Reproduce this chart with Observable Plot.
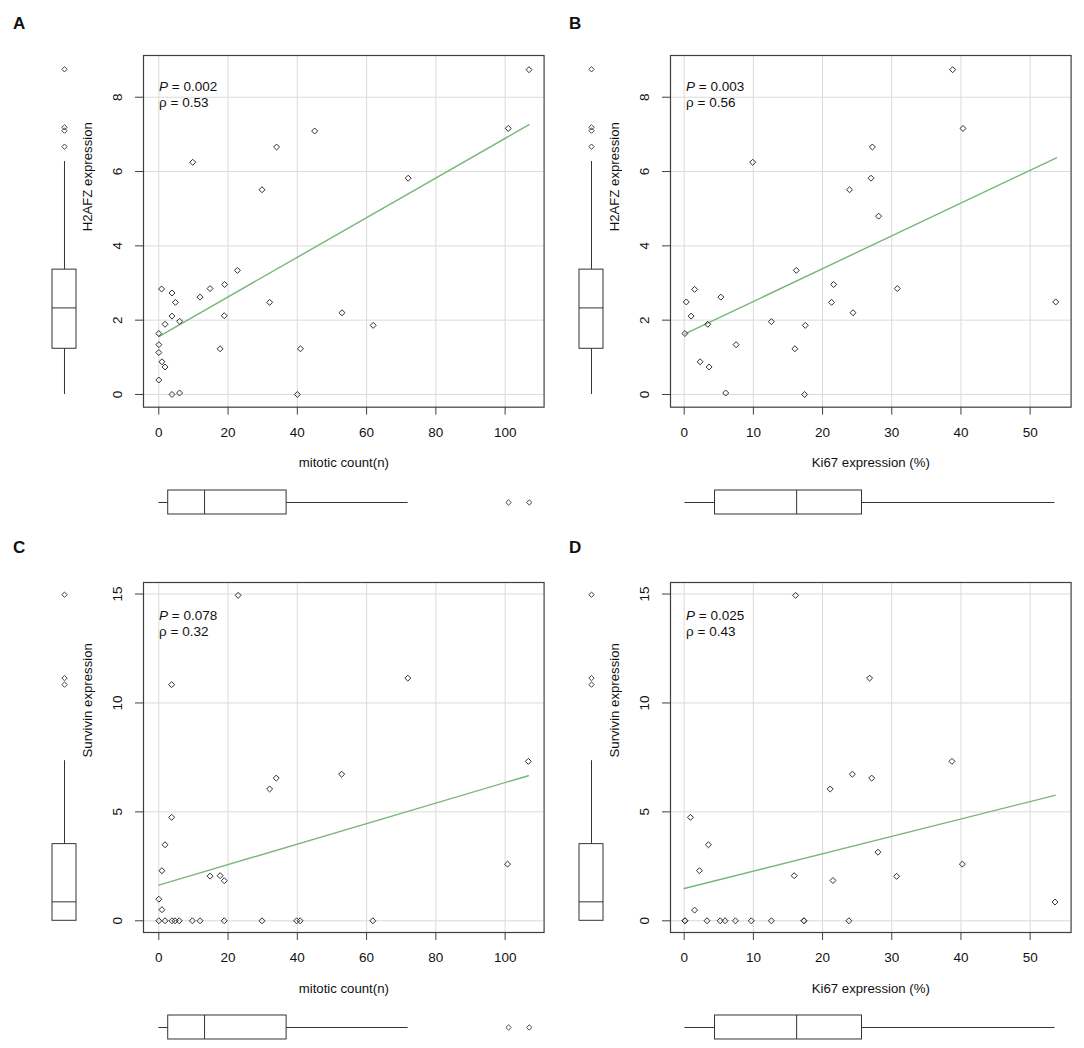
<!DOCTYPE html>
<html>
<head>
<meta charset="utf-8">
<script src="https://cdn.jsdelivr.net/npm/d3@7"></script>
<script src="https://cdn.jsdelivr.net/npm/@observablehq/plot@0.6"></script>
<style>
  html, body { margin: 0; padding: 0; background: #fff; }
  body { width: 1084px; height: 1048px; position: relative; overflow: hidden; font-family: "Liberation Sans", Arial, sans-serif; }
  .abs { position: absolute; }
  .letter { position: absolute; font: bold 17px "Liberation Sans", Arial, sans-serif; color: #111; }
</style>
</head>
<body>
<script>
// ---------- Panel A: H2AFZ expression vs mitotic count ----------
const aMitotic = [106.9, 100.9, 45.0, 34.0, 9.8, 72.0, 29.8, 22.7, 0.8, 14.8, 19.0, 3.8, 11.9, 4.8, 32.0, 3.8, 18.9, 52.9, 6.0, 1.8, 61.9, 0, 0, 0, 0.9, 1.8, 0, 17.7, 40.9, 3.8, 6.0, 40.0];
const aH2afz   = [8.74, 7.16, 7.09, 6.66, 6.25, 5.82, 5.51, 3.34, 2.84, 2.85, 2.96, 2.73, 2.62, 2.48, 2.48, 2.11, 2.12, 2.20, 1.97, 1.89, 1.86, 1.64, 1.34, 1.13, 0.88, 0.74, 0.39, 1.23, 1.23, 0, 0.04, 0];
const aFitX = [0, 106.9];
const aFitY = [1.56, 7.26];

// ---------- Panel B: H2AFZ expression vs Ki67 ----------
const bKi67  = [38.8, 40.3, 27.2, 9.9, 27.0, 23.9, 28.1, 16.2, 1.5, 30.8, 21.6, 5.3, 0.3, 21.3, 53.7, 1.0, 24.4, 12.6, 3.4, 17.5, 0.1, 7.5, 16.0, 2.3, 3.6, 6.0, 17.4];
const bH2afz = [8.74, 7.16, 6.66, 6.25, 5.82, 5.51, 4.80, 3.34, 2.83, 2.85, 2.96, 2.62, 2.49, 2.48, 2.49, 2.11, 2.20, 1.96, 1.89, 1.86, 1.64, 1.34, 1.23, 0.88, 0.74, 0.04, 0];
const bFitX = [0.1, 53.8];
const bFitY = [1.63, 6.37];

// ---------- Panel C: Survivin expression vs mitotic count ----------
const cMitotic  = [22.9, 3.7, 71.9, 106.7, 52.8, 33.9, 32.0, 3.7, 1.8, 0.9, 14.8, 17.7, 18.9, 100.7, 0, 0.9, 0, 1.8, 3.8, 4.7, 5.9, 9.7, 11.9, 18.9, 29.8, 39.8, 40.8, 61.8];
const cSurvivin = [14.94, 10.84, 11.14, 7.32, 6.73, 6.55, 6.05, 4.75, 3.49, 2.30, 2.05, 2.07, 1.84, 2.60, 0.99, 0.51, 0, 0, 0, 0, 0, 0, 0, 0, 0, 0, 0, 0];
const cFitX = [0, 106.7];
const cFitY = [1.64, 6.66];

// ---------- Panel D: Survivin expression vs Ki67 ----------
const dKi67     = [16.1, 26.8, 38.7, 24.3, 27.1, 21.1, 0.9, 3.5, 28.0, 2.2, 15.9, 30.7, 21.5, 40.2, 53.6, 1.5, 0.1, 0.1, 3.3, 5.2, 5.9, 7.4, 9.7, 12.6, 17.3, 17.3, 23.8];
const dSurvivin = [14.94, 11.14, 7.32, 6.73, 6.55, 6.05, 4.75, 3.49, 3.15, 2.30, 2.07, 2.04, 1.85, 2.60, 0.86, 0.49, 0, 0, 0, 0, 0, 0, 0, 0, 0, 0, 0];
const dFitX = [0, 53.6];
const dFitY = [1.48, 5.76];

// ---------- Marginal boxplots: [lower whisker, Q1, median, Q3, upper whisker] ----------
const h2afzBox      = [0, 1.23, 2.33, 3.36, 6.27];
const h2afzOutliers = [6.67, 7.10, 7.19, 8.75];
const survivinBox      = [0, 0, 0.87, 3.52, 7.35];
const survivinOutliers = [10.84, 11.14, 14.97];
const mitoticBox      = [0, 2.7, 13.2, 36.9, 72.0];
const mitoticOutliers = [101.0, 107.0];
const ki67Box      = [0.1, 4.45, 16.25, 25.7, 53.6];
const ki67Outliers = [];

// ---------- Axis ticks and labels ----------
const mitoticTicks = [0, 20, 40, 60, 80, 100];
const ki67Ticks = [0, 10, 20, 30, 40, 50];
const h2afzTicks = [0, 2, 4, 6, 8];
const survivinTicks = [0, 5, 10, 15];
const panelLetters = ["A", "B", "C", "D"];
const pLabels = ["0.002", "0.003", "0.078", "0.025"];
const rhoLabels = ["0.53", "0.56", "0.32", "0.43"];
const xTitles = ["mitotic count(n)", "Ki67 expression (%)", "mitotic count(n)", "Ki67 expression (%)"];
const yTitles = ["H2AFZ expression", "H2AFZ expression", "Survivin expression", "Survivin expression"];

// ---------- Build ----------
const FONT = "Liberation Sans, Arial, sans-serif";
const INK = "#111";
const FRAME = "#3f3f3f";
const GRID = "#dadada";
const FIT = "#78b678";
const FW = 400.6;
const ML = 70, MR = 8, MT = 10, MB = 72;
const svgStyle = {background: "transparent", overflow: "visible", fontFamily: FONT, color: INK};

const panels = [
  {fl: 142.7, ft: 55, fh: 351.7, lx: 13, ly: 14, xd: [-4.42, 111.25], yd: [-0.342, 9.123],
   xs: aMitotic, ys: aH2afz, fx: aFitX, fy: aFitY, xt: mitoticTicks, yt: h2afzTicks,
   xb: mitoticBox, xo: mitoticOutliers, yb: h2afzBox, yo: h2afzOutliers, pdy: 31},
  {fl: 670, ft: 55, fh: 351.7, lx: 569, ly: 14, xd: [-1.98, 55.92], yd: [-0.342, 9.123],
   xs: bKi67, ys: bH2afz, fx: bFitX, fy: bFitY, xt: ki67Ticks, yt: h2afzTicks,
   xb: ki67Box, xo: ki67Outliers, yb: h2afzBox, yo: h2afzOutliers, pdy: 31},
  {fl: 142.7, ft: 581.7, fh: 350, lx: 13, ly: 538, xd: [-4.42, 111.25], yd: [-0.537, 15.53],
   xs: cMitotic, ys: cSurvivin, fx: cFitX, fy: cFitY, xt: mitoticTicks, yt: survivinTicks,
   xb: mitoticBox, xo: mitoticOutliers, yb: survivinBox, yo: survivinOutliers, pdy: 33.6},
  {fl: 670, ft: 581.7, fh: 350, lx: 569, ly: 538, xd: [-1.98, 55.92], yd: [-0.537, 15.53],
   xs: dKi67, ys: dSurvivin, fx: dFitX, fy: dFitY, xt: ki67Ticks, yt: survivinTicks,
   xb: ki67Box, xo: ki67Outliers, yb: survivinBox, yo: survivinOutliers, pdy: 33.6}
];

function place(el, left, top) {
  el.classList.add("abs");
  el.style.left = left + "px";
  el.style.top = top + "px";
  document.body.appendChild(el);
}

function boxStats(a) { return {lo: a[0], q1: a[1], med: a[2], q3: a[3], hi: a[4]}; }

panels.forEach((p, i) => {
  const pts = p.xs.map((x, k) => ({x, y: p.ys[k]}));
  const fit = p.fx.map((x, k) => ({x, y: p.fy[k]}));
  const width = ML + FW + MR;
  const height = MT + p.fh + MB;

  const main = Plot.plot({
    width, height,
    marginLeft: ML, marginRight: MR, marginTop: MT, marginBottom: MB,
    style: svgStyle,
    x: {domain: p.xd, axis: null},
    y: {domain: p.yd, axis: null},
    marks: [
      Plot.gridX(p.xt, {stroke: GRID, strokeOpacity: 1, strokeWidth: 1}),
      Plot.gridY(p.yt, {stroke: GRID, strokeOpacity: 1, strokeWidth: 1}),
      Plot.axisX(p.xt, {tickSize: 8, tickFormat: () => "", label: null, stroke: FRAME}),
      Plot.axisY(p.yt, {tickSize: 8, tickFormat: () => "", label: null, stroke: FRAME}),
      Plot.text(p.xt, {x: d => d, frameAnchor: "bottom", dy: 25.5, lineAnchor: "middle", text: d => String(d), fontSize: 13.5, fill: INK}),
      Plot.text(p.yt, {y: d => d, frameAnchor: "left", dx: -26, rotate: -90, lineAnchor: "middle", textAnchor: "middle", text: d => String(d), fontSize: 13.5, fill: INK}),
      Plot.text([xTitles[i]], {frameAnchor: "bottom", dy: 56, lineAnchor: "middle", fontSize: 13.2, fill: INK}),
      Plot.text([yTitles[i]], {frameAnchor: "left", dx: -56, rotate: -90, lineAnchor: "middle", fontSize: 13.2, fill: INK}),
      Plot.line(fit, {x: "x", y: "y", stroke: FIT, strokeWidth: 1.4}),
      Plot.dot(pts, {x: "x", y: "y", symbol: "diamond2", r: 2.7, stroke: "#2e2e2e", strokeWidth: 1, fill: "none"}),
      Plot.text(["P"], {frameAnchor: "top-left", dx: 15.6, dy: p.pdy, lineAnchor: "middle", textAnchor: "start", fontStyle: "italic", fontSize: 13.5, fill: INK}),
      Plot.text([" = " + pLabels[i]], {frameAnchor: "top-left", dx: 24.6, dy: p.pdy, lineAnchor: "middle", textAnchor: "start", fontSize: 13.5, fill: INK}),
      Plot.text(["ρ = " + rhoLabels[i]], {frameAnchor: "top-left", dx: 15.6, dy: p.pdy + 16, lineAnchor: "middle", textAnchor: "start", fontSize: 13.5, fill: INK}),
      Plot.frame({stroke: FRAME, strokeWidth: 1.2})
    ]
  });
  place(main, p.fl - ML, p.ft - MT);

  // left (vertical) boxplot of the y variable
  const ys = boxStats(p.yb);
  const left = Plot.plot({
    width: 40, height,
    marginLeft: 0, marginRight: 0, marginTop: MT, marginBottom: MB,
    style: svgStyle,
    x: {domain: [-1, 1], axis: null},
    y: {domain: p.yd, axis: null},
    marks: [
      Plot.ruleX([ys], {x: () => 0, y1: "lo", y2: "q1", stroke: "#333", strokeWidth: 1}),
      Plot.ruleX([ys], {x: () => 0, y1: "q3", y2: "hi", stroke: "#333", strokeWidth: 1}),
      Plot.rect([ys], {x1: () => -0.6, x2: () => 0.6, y1: "q1", y2: "q3", fill: "white", stroke: "#333", strokeWidth: 1}),
      Plot.ruleY([ys], {y: "med", x1: () => -0.6, x2: () => 0.6, stroke: "#333", strokeWidth: 1}),
      Plot.dot(p.yo, {x: () => 0, y: d => d, symbol: "diamond2", r: 2.4, stroke: "#444", strokeWidth: 1, fill: "none"})
    ]
  });
  place(left, p.fl - 79 - 20, p.ft - MT);

  // bottom (horizontal) boxplot of the x variable
  const xsb = boxStats(p.xb);
  const bottom = Plot.plot({
    width, height: 40,
    marginLeft: ML, marginRight: MR, marginTop: 0, marginBottom: 0,
    style: svgStyle,
    x: {domain: p.xd, axis: null},
    y: {domain: [-1, 1], axis: null},
    marks: [
      Plot.ruleY([xsb], {y: () => 0, x1: "lo", x2: "q1", stroke: "#333", strokeWidth: 1}),
      Plot.ruleY([xsb], {y: () => 0, x1: "q3", x2: "hi", stroke: "#333", strokeWidth: 1}),
      Plot.rect([xsb], {y1: () => -0.6, y2: () => 0.6, x1: "q1", x2: "q3", fill: "white", stroke: "#333", strokeWidth: 1}),
      Plot.ruleX([xsb], {x: "med", y1: () => -0.6, y2: () => 0.6, stroke: "#333", strokeWidth: 1}),
      Plot.dot(p.xo, {y: () => 0, x: d => d, symbol: "diamond2", r: 2.4, stroke: "#444", strokeWidth: 1, fill: "none"})
    ]
  });
  place(bottom, p.fl - ML, p.ft + p.fh + 95.5 - 20);

  const lt = document.createElement("div");
  lt.className = "letter";
  lt.textContent = panelLetters[i];
  lt.style.left = p.lx + "px";
  lt.style.top = p.ly + "px";
  document.body.appendChild(lt);
});
</script>
</body>
</html>
